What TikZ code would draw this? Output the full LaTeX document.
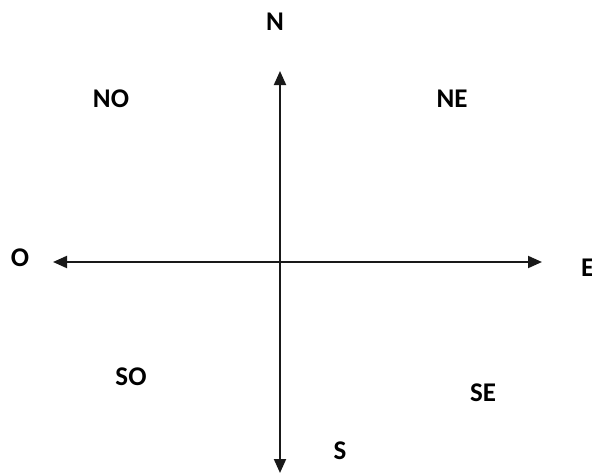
\documentclass[tikz,border=0pt]{standalone}
\usepackage{fontspec}
\setmainfont{Carlito}
\usetikzlibrary{arrows.meta}

\begin{document}
\begin{tikzpicture}[x=1pt,y=-1pt,
    font=\fontsize{27}{30}\selectfont\bfseries,
    >={Triangle[length=14pt,width=12pt]},
    axis/.style={<->,line width=2pt,black!90}]
    \useasboundingbox (0,0) rectangle (592,474);

    % extremos de los ejes
    \coordinate (tipN) at (280,71);
    \coordinate (tipS) at (280,473);
    \coordinate (tipO) at (53,262);
    \coordinate (tipE) at (542,262);

    \draw[axis] (tipN) -- (tipS);
    \draw[axis] (tipO) -- (tipE);

    % puntos cardinales
    \node (lblN) at (275,22) {N};
    \node (lblS) at (340,451) {S};
    \node (lblO) at (20,258) {O};
    \node[anchor=west,inner sep=0pt] (lblE) at (581,268) {E};

    \node (lblNO) at (111,99) {NO};
    \node (lblNE) at (452,99) {NE};
    \node (lblSO) at (131,377) {SO};
    \node (lblSE) at (483,393) {SE};
\end{tikzpicture}
\end{document}
